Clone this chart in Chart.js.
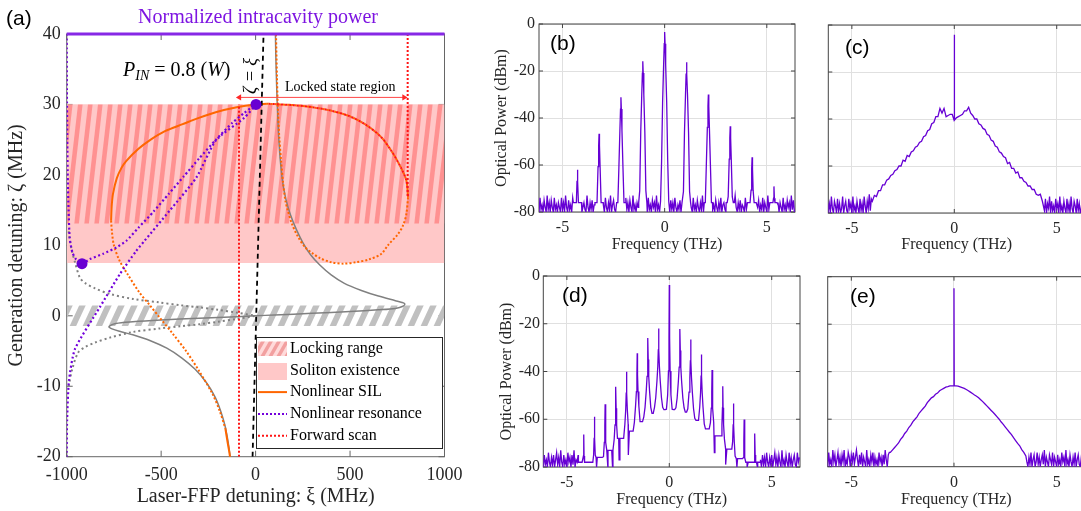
<!DOCTYPE html>
<html>
<head>
<meta charset="utf-8">
<script src="https://cdn.jsdelivr.net/npm/chart.js@4.4.1/dist/chart.umd.min.js"></script>
<style>
  html, body { margin: 0; padding: 0; background: #fff; width: 1081px; height: 511px; overflow: hidden; position: relative; }
  canvas { position: absolute; }
</style>
</head>
<body>
<canvas id="pa" width="470" height="511" style="left:0;top:0"></canvas>
<canvas id="pb" width="320" height="256" style="left:480px;top:0"></canvas>
<canvas id="pc" width="290" height="256" style="left:800px;top:0"></canvas>
<canvas id="pd" width="325" height="255" style="left:480px;top:256px"></canvas>
<canvas id="pe" width="290" height="255" style="left:800px;top:256px"></canvas>
<script>
// ---------- panel (a): detunings in MHz ----------
const xiTicks = [-1000, -500, 0, 500, 1000];
const zetaTicks = [-20, -10, 0, 10, 20, 30, 40];
const solitonBand = [7.5, 30];
const lockingBand = [13.1, 30];
const grayBand = [-1.45, 1.45];

const intracavityTop = [[-1000, 40], [1000, 40]];
const silSolid = [[-765, 13.5], [-762, 15.5], [-755, 17.3], [-735, 19.5], [-710, 21], [-684, 22], [-620, 23.7], [-561, 24.9],
  [-480, 26.2], [-386, 27.2], [-300, 28.1], [-211, 28.9], [-100, 29.6], [0, 30], [60, 30.1]];
const silUpperRight = [[60, 30.1], [200, 29.9], [300, 29.6], [403, 29.1], [500, 28.3], [579, 27.2], [660, 25.5], [719, 23.4],
  [770, 21], [798, 19.2], [807, 16.8]];
const silLowerRight = [[807, 16.8], [798, 14.4], [780, 12.8], [754, 11.6], [700, 10], [666, 8.8], [600, 8], [530, 7.6], [465, 7.4],
  [400, 7.6], [340, 8.2], [300, 8.9], [263, 9.7], [225, 11.2], [193, 13], [170, 15], [158, 16.3], [145, 19], [135, 22], [125, 25.5], [117, 30]];
const silTopStub = [[117, 30], [113, 34], [108, 40]];
const silLowerLeft = [[-765, 13.5], [-760, 11.8], [-750, 10], [-720, 7.8], [-680, 6], [-615, 3.3], [-560, 1.5], [-509, -0.2],
  [-440, -2.5], [-368, -5], [-300, -7.8], [-228, -11.1], [-190, -13.5], [-160, -16]];
const silBottomStub = [[-160, -16], [-148, -18], [-140, -19.2], [-133, -20.5]];

const linearSil = [[105, 40], [107, 37], [111, 33], [116, 29], [122, 25.5], [131, 22], [143, 19], [160, 16.6], [185, 14.3],
  [215, 12.3], [250, 10.4], [290, 8.7], [340, 7.2], [400, 5.8], [470, 4.6], [560, 3.6], [650, 2.8], [740, 2.15], [775, 1.9],
  [790, 1.7], [780, 1.35], [740, 1.05], [650, 0.85], [500, 0.6], [300, 0.35], [100, 0.12], [0, 0], [-100, -0.12],
  [-300, -0.35], [-500, -0.6], [-650, -0.85], [-740, -1.1], [-776, -1.56], [-760, -1.85], [-720, -2.2], [-650, -2.7],
  [-560, -3.5], [-470, -4.6], [-390, -6], [-320, -7.6], [-260, -9.5], [-215, -11.5], [-185, -13.5], [-163, -15.5],
  [-148, -17.5], [-137, -19.5], [-133, -20.5]];
const linearUpper = [[-990, 12], [-975, 9.5], [-955, 7.5], [-930, 5.4], [-900, 4.6], [-850, 3.9], [-772, 3.1], [-650, 2.4],
  [-509, 1.9], [-400, 1.5], [-298, 1.2], [-200, 0.85], [-100, 0.45], [0, 0]];
const linearLower = [[-990, -10], [-970, -7.5], [-939, -5.2], [-900, -4.4], [-850, -3.8], [-772, -3.1], [-650, -2.3],
  [-509, -1.8], [-400, -1.5], [-298, -1.2], [-200, -0.85], [-100, -0.45], [0, 0]];

const resonance = [[-1000, 40], [-999, 32], [-997, 25], [-994, 19], [-990, 15], [-984, 11], [-970, 9], [-950, 8], [-919, 7.4],
  [-877, 8.05], [-807, 8.8], [-737, 9.7], [-684, 10.65], [-620, 12.5], [-540, 14.8], [-460, 17.3], [-380, 19.8],
  [-300, 22.3], [-210, 25], [-123, 27.4], [-60, 28.8], [2, 30], [-60, 28.1], [-210, 24.9], [-314, 19.6], [-456, 14.9],
  [-588, 10.65], [-632, 9.2], [-719, 5.9], [-825, 1.2], [-956, -4.7], [-988, -9.2], [-998, -14.9], [-1000, -19.2], [-1001, -21]];
const dotsXi = [-919, 2];
const dotsZeta = [7.4, 30];

const scanLeft = [[-88, -20], [-88, 30]];
const scanRight = [[805, 17], [805, 41]];
const zetaEqXi = [[-16, -20], [42, 40]];
const arrowXi = [-86, 786];
const arrowZeta = 31;

const legendLabels = ['Locking range', 'Soliton existence', 'Nonlinear SIL', 'Nonlinear resonance', 'Forward scan'];

// ---------- spectra (b)-(e): frequency in THz, power in dBm ----------
const freqTicks = [-5, 0, 5];
const powerTicks = [-80, -60, -40, -20, 0];
const freqRange = [-6.15, 6.38];

// (b) noise floor, 0.05 THz steps from -6.2 THz
const floorB = [
  -76, -80, -74, -79, -77, -80, -75, -78, -80, -73, -79, -76,
  -80, -75, -78, -80, -74, -79, -77, -80, -76, -78, -80, -74,
  -79, -76, -80, -73, -78, -80, -75, -79, -77, -80, -74, -78,
  -80, -76, -79, -75, -80, -77, -74, -80, -78, -76, -79, -80,
  -73, -78, -80, -76, -79, -75, -80, -77, -79, -74, -80, -76,
  -78, -80, -75, -79, -77, -80, -74, -78, -80, -76, -79, -73,
  -80, -77, -75, -79, -80, -76, -78, -74, -80, -77, -79, -75,
  -80, -78, -74, -79, -76, -80, -75, -78, -80, -73, -79, -77,
  -80, -76, -78, -74, -80, -79, -75, -77, -80, -76, -78, -80,
  -74, -79, -77, -80, -75, -78, -76, -80, -73, -79, -77, -80,
  -75, -78, -80, -76, -79, -74, -80, -77, -78, -80, -75, -79,
  -76, -80, -74, -78, -80, -77, -79, -75, -80, -76, -78, -73,
  -80, -79, -75, -77, -80, -76, -78, -80, -74, -79, -77, -80,
  -75, -78, -80, -76, -79, -73, -80, -77, -79, -75, -80, -76,
  -78, -80, -74, -79, -77, -80, -75, -78, -80, -76, -79, -74,
  -80, -77, -76, -79, -80, -75, -78, -74, -80, -77, -79, -76,
  -80, -73, -78, -80, -76, -79, -75, -80, -77, -78, -80, -74,
  -79, -76, -80, -75, -78, -80, -77, -74, -79, -80, -76, -78,
  -75, -80, -77, -79, -74, -80, -76, -78, -80, -73, -79, -77,
  -80, -76, -78, -75, -80, -79, -74, -77, -80, -76, -78, -80,
  -74, -79, -77, -80, -75, -78, -76, -80, -73, -79, -75, -80];
const peakFreqB = [-4.27, -3.21, -2.14, -1.07, 0, 1.07, 2.14, 3.21, 4.28, 5.35];
const peakTopB = [-62, -46.7, -31.2, -15.9, -3.4, -16.3, -30, -43.5, -56.7, -69.1];

// (c) noise at 0.05 THz steps on the wings, envelope at 0.1 THz steps from -4.0 to 4.4 THz
const noiseLeftC = [-74, -79, -76, -80, -73, -78, -80, -75, -77, -80, -74, -79, -76, -80, -78, -73, -80, -77, -75, -79,
  -80, -74, -78, -76, -80, -73, -79, -77, -80, -75, -78, -80, -74, -79, -76, -80, -73, -77, -80, -75, -78, -72, -79, -74];
const envC = [-75, -72.5, -73, -70.5, -70.5, -68, -68, -66, -65.5, -64, -63.5, -62, -61.5, -60, -60, -57.5, -58, -55.5,
  -56, -54, -53.5, -52, -51.5, -50, -49.5, -47.5, -47, -45, -44.5, -42, -41.5, -39, -39, -35.5, -37.5, -35.5, -39, -38.5,
  -38, -38,
  -40.5, -39.5, -39, -38.5, -38, -36.5, -36.5, -35, -37.5, -38.5, -40, -40, -42, -42.5, -44, -44.5, -46.5, -47, -49, -49.5,
  -51.5, -52, -54, -54.5, -56, -56.5, -59, -58.5, -61, -61, -63, -62.5, -65, -65, -66.5, -67, -68.5, -68.5, -70, -70,
  -72, -72.5, -72, -75, -79];
const noiseRightC = [-74, -80, -76, -78, -73, -80, -75, -79, -77, -80, -74, -78, -76, -80, -73, -79, -77, -80, -75, -78,
  -80, -74, -79, -76, -80, -73, -78, -80, -75, -77, -80, -74, -79, -76, -80, -78, -73, -80, -76];
const pumpTopC = -4.2;

// (e) same layout, envelope from -3.1 to 3.5 THz
const noiseLeftE = [-76, -80, -74, -79, -77, -80, -73, -78, -75, -80, -77, -74, -79, -76, -80, -75, -78, -73, -80, -77,
  -79, -74, -76, -80, -75, -78, -74, -79, -76, -73, -77, -80, -75, -79, -74, -80, -76, -78, -80, -73,
  -79, -77, -80, -75, -78, -74, -80, -76, -79, -77, -80, -74, -78, -76, -80, -75, -79, -73, -77, -80, -75, -74];
const envE = [-74, -73, -72, -71, -70, -68.5, -67.5, -66, -65, -63.5, -62.5, -61, -60, -59, -57.5, -56.5, -55.5, -54.5,
  -53, -52, -51, -50.5, -49.5, -49, -48, -47.5, -47, -46.5, -46.3, -46, -46,
  -46,
  -46, -46.1, -46.4, -46.7, -47, -47.5, -48, -48.6, -49.2, -49.8, -50.3, -51, -51.8, -52.6, -53.5, -54.4, -55.3, -56.2,
  -57.1, -58, -59, -60, -61.2, -62.2, -63.3, -64.4, -65.5, -66.5, -67.8, -69, -70.2, -71.2, -72.8, -74, -75.5];
const noiseRightE = [-78, -80, -76, -79, -74, -80, -77, -75, -80, -78, -74, -79, -76, -80, -77, -75, -79, -73, -80, -76,
  -78, -80, -75, -77, -79, -74, -80, -76, -78, -80, -75, -79, -77, -80, -74, -78, -76, -80, -73, -79,
  -77, -80, -75, -78, -80, -76, -79, -74, -80, -77, -75, -79, -80, -76, -78, -74, -80];
const pumpTopE = -4.9;

// (d) comb: wings at 0.05 THz steps, comb lines, troughs between lines, deep dips
const noiseLeftD = [-76, -80, -75, -79, -77, -80, -74, -78, -80, -76, -79, -75, -80, -77, -74, -79, -76, -80, -73, -78,
  -80, -75, -79, -77, -80, -74, -78, -76, -80, -75, -79, -73, -80, -77, -78, -75];
const noiseRightD = [-77, -80, -75, -79, -76, -80, -74, -78, -80, -76, -79, -75, -80, -77, -74, -79, -76, -80, -75, -78,
  -80, -73, -79, -77, -80, -75, -78, -80, -74, -79, -76, -80, -77, -75, -79, -80, -74, -78, -76];
const peakFreqD = [-4.176, -3.654, -3.132, -2.61, -2.088, -1.566, -1.044, -0.522, 0, 0.522, 1.044, 1.566, 2.088, 2.61, 3.132, 3.654, 4.176];
const peakTopD = [-66.4, -59, -53.7, -46.4, -40.1, -32.4, -26, -22, -3.8, -22.2, -26.6, -32.9, -39.4, -46.2, -53.4, -60.1, -66];
const troughD = [-78, -76, -73, -68, -65, -61, -57.5, -56, -56, -57, -60.5, -64, -67, -72.5, -76.5, -78];
const dipsD = [[-3.55, -80], [-3.0, -80], [-2.77, -80], [-2.45, -77], [-2.0, -75], [2.2, -74], [2.75, -79], [3.3, -80], [3.8, -80], [4.3, -80]];

// line shapes of the comb lines (offset THz, drop dB)
const lineDxB = [-0.2, -0.15, -0.1, -0.05, -0.02, 0, 0.02, 0.05, 0.1, 0.15, 0.2];
const lineDropB = [72, 55, 30, 14, 5, 0, 5, 14, 30, 55, 72];
const lineDxD = [-0.26, -0.2, -0.14, -0.08, -0.04, -0.015, 0, 0.015, 0.04, 0.08, 0.14, 0.2, 0.26];
const lineDropD = [36, 33, 29, 22, 16, 9, 0, 9, 16, 22, 29, 33, 36];
const pumpDropD = [56, 55, 52, 46, 36, 22, 0, 22, 36, 46, 52, 55, 56];
const pumpDx = [-0.012, 0, 0.012];
const pumpDrop = [99, 0, 99];

// ---------- helpers ----------
const pts = a => a.map(p => ({x: p[0], y: p[1]}));
const xGrid = (start, n, step) => Array.from({length: n}, (_, i) => +(start + step * i).toFixed(3));
const sampled = (start, step, ys) => xGrid(start, ys.length, step).map((x, i) => ({x, y: ys[i]}));

function withLines(base, freqs, tops, dx, drop, floor, keep) {
  const out = base.filter(p => freqs.every(f => Math.abs(p.x - f) > keep));
  freqs.forEach((f, j) => dx.forEach((d, k) => out.push({x: f + d, y: Math.max(tops[j] - drop[k], floor)})));
  return out.sort((a, b) => a.x - b.x);
}

function envSeries(noiseL, envStart, env, noiseR, pumpTop) {
  const envPts = sampled(envStart, 0.1, env);
  const base = [].concat(
    sampled(-6.2, 0.05, noiseL),
    envPts,
    sampled(+(envStart + 0.1 * env.length - 0.05).toFixed(3), 0.05, noiseR));
  const pumpBase = envPts.find(p => Math.abs(p.x) < 0.005).y;
  return withLines(base, [0], [pumpTop], pumpDx, pumpDrop, pumpBase, 0.005);
}

function combD() {
  const out = [].concat(sampled(-6.2, 0.05, noiseLeftD), sampled(4.45, 0.05, noiseRightD));
  peakFreqD.forEach((f, j) => {
    const drop = f === 0 ? pumpDropD : lineDropD;
    const left = j > 0 ? troughD[j - 1] : -78;
    const right = j < troughD.length ? troughD[j] : -78;
    lineDxD.forEach((d, k) => out.push({x: f + d, y: Math.max(peakTopD[j] - drop[k], d < 0 ? left : right)}));
    if (j < troughD.length) out.push({x: (f + peakFreqD[j + 1]) / 2, y: troughD[j]});
  });
  dipsD.forEach(p => out.push({x: p[0], y: p[1]}));
  return out.sort((a, b) => a.x - b.x);
}

function stripes(ctx, w, h, sw, bg, fg) {
  const c = document.createElement('canvas');
  c.width = w; c.height = h;
  const g = c.getContext('2d');
  if (bg) { g.fillStyle = bg; g.fillRect(0, 0, w, h); }
  g.fillStyle = fg;
  for (let k = -1; k <= 1; k++) {
    g.beginPath();
    g.moveTo(k * w, h); g.lineTo(k * w + sw, h); g.lineTo(k * w + sw + w, 0); g.lineTo(k * w + w, 0);
    g.closePath(); g.fill();
  }
  return ctx.createPattern(c, 'repeat');
}

Chart.defaults.font.family = "'Liberation Serif', 'Times New Roman', serif";
Chart.defaults.color = '#262626';

const SERIF = "'Liberation Serif', serif";
const PURPLE = 'rgb(115,0,220)';
const ORANGE = 'rgb(255,102,0)';
const RED = 'rgb(255,20,20)';
const GRAY = 'rgb(128,128,128)';

// frame with inward ticks on all four sides, plus a panel label
const frameTicks = {
  id: 'frameTicks',
  beforeDatasetsDraw(chart, args, o) {
    const {ctx, chartArea: a, scales: {x, y}} = chart;
    ctx.save();
    ctx.strokeStyle = o.color;
    ctx.lineWidth = 1;
    ctx.strokeRect(a.left, a.top, a.right - a.left, a.bottom - a.top);
    ctx.beginPath();
    x.ticks.forEach(t => {
      const px = x.getPixelForValue(t.value);
      ctx.moveTo(px, a.bottom); ctx.lineTo(px, a.bottom - o.len);
      ctx.moveTo(px, a.top); ctx.lineTo(px, a.top + o.len);
    });
    y.ticks.forEach(t => {
      const py = y.getPixelForValue(t.value);
      ctx.moveTo(a.left, py); ctx.lineTo(a.left + o.len, py);
      ctx.moveTo(a.right, py); ctx.lineTo(a.right - o.len, py);
    });
    ctx.stroke();
    ctx.restore();
  },
  afterDraw(chart, args, o) {
    if (!o.label) return;
    const ctx = chart.ctx;
    ctx.save();
    ctx.fillStyle = '#000';
    ctx.font = "21px 'Liberation Sans', Arial, sans-serif";
    ctx.textBaseline = 'middle';
    ctx.fillText(o.label, o.lx, o.ly);
    ctx.restore();
  }
};

// ---------- panel (a) ----------
const ctxA = document.getElementById('pa').getContext('2d');
const pinkHatch = stripes(ctxA, 10, 87, 4.6, 'rgb(255,200,200)', 'rgb(255,145,145)');
const grayHatch = stripes(ctxA, 13, 28, 6.5, null, 'rgb(192,192,192)');
const legendHatch = stripes(ctxA, 8, 14, 4, 'rgb(255,218,218)', 'rgb(242,160,160)');

function curve(data, color, width, dash, order, extra) {
  return Object.assign({data: pts(data), showLine: true, borderColor: color, borderWidth: width,
    borderDash: dash || [], pointRadius: 0, fill: false, order: order, tension: 0}, extra || {});
}
function band(range, bg, order) {
  return {data: [{x: xiTicks[0], y: range[1]}, {x: xiTicks[xiTicks.length - 1], y: range[1]}], showLine: true,
    borderColor: 'transparent', borderWidth: 0, pointRadius: 0, backgroundColor: bg, fill: {value: range[0]}, order: order};
}

const annotateA = {
  id: 'annotateA',
  afterDraw(chart) {
    const ctx = chart.ctx;
    ctx.save();
    ctx.textBaseline = 'alphabetic';
    ctx.fillStyle = 'rgb(125,20,225)';
    ctx.font = '20px ' + SERIF;
    ctx.textAlign = 'center';
    ctx.fillText('Normalized intracavity power', 258, 23);
    ctx.textAlign = 'left';
    ctx.fillStyle = '#000';
    ctx.font = "21px 'Liberation Sans', Arial, sans-serif";
    ctx.fillText('(a)', 6, 25);

    let x = 123;
    const seg = (t, font, dy) => { ctx.font = font; ctx.fillText(t, x, 76 + dy); x += ctx.measureText(t).width; };
    seg('P', 'italic 20px ' + SERIF, 0);
    seg('IN', 'italic 14px ' + SERIF, 4);
    seg(' = 0.8 (', '20px ' + SERIF, 0);
    seg('W', 'italic 20px ' + SERIF, 0);
    seg(')', '20px ' + SERIF, 0);

    ctx.save();
    ctx.translate(251, 76);
    ctx.rotate(-Math.PI / 2);
    ctx.textAlign = 'center';
    ctx.textBaseline = 'middle';
    ctx.font = 'italic 18px ' + SERIF;
    ctx.fillText('ζ = ξ', 0, 0);
    ctx.restore();

    ctx.font = '14px ' + SERIF;
    ctx.fillText('Locked state region', 285, 91);

    // legend
    const L = 256.5, T = 337.5, W = 186, H = 111;
    ctx.fillStyle = '#fff';
    ctx.fillRect(L, T, W, H);
    ctx.strokeStyle = '#262626';
    ctx.lineWidth = 1;
    ctx.strokeRect(L, T, W, H);
    const rowY = i => 348.5 + i * 21.8;
    ctx.fillStyle = legendHatch;
    ctx.fillRect(258, 341.5, 29, 14.5);
    ctx.fillStyle = 'rgb(255,200,200)';
    ctx.fillRect(258, 363, 29, 17);
    const swatch = (i, color, dash) => {
      ctx.beginPath();
      ctx.strokeStyle = color; ctx.lineWidth = 2; ctx.setLineDash(dash);
      ctx.moveTo(258, rowY(i)); ctx.lineTo(287, rowY(i)); ctx.stroke();
    };
    swatch(2, ORANGE, []);
    swatch(3, PURPLE, [2, 2]);
    swatch(4, RED, [2, 2]);
    ctx.setLineDash([]);
    ctx.fillStyle = '#000';
    ctx.font = '16px ' + SERIF;
    ctx.textBaseline = 'middle';
    legendLabels.forEach((t, i) => ctx.fillText(t, 290, rowY(i)));
    ctx.restore();
  }
};

new Chart(ctxA, {
  type: 'scatter',
  data: {
    datasets: [
      band(solitonBand, 'rgb(255,200,200)', 20),
      band(lockingBand, pinkHatch, 19),
      band(grayBand, grayHatch, 18),
      curve(linearSil, GRAY, 1.5, [], 12, {tension: 0.3}),
      curve(linearUpper, GRAY, 2, [2, 3], 11, {tension: 0.3}),
      curve(linearLower, GRAY, 2, [2, 3], 11, {tension: 0.3}),
      curve(silLowerLeft, ORANGE, 2, [2, 2], 9, {tension: 0.3}),
      curve(silLowerRight, ORANGE, 2, [2, 2], 9, {tension: 0.3}),
      curve(silBottomStub, ORANGE, 2, [], 9, {tension: 0.3}),
      curve(silTopStub, ORANGE, 2, [2, 2], 9, {tension: 0.3}),
      curve(silSolid, ORANGE, 2, [], 8, {tension: 0.3}),
      curve(silUpperRight, ORANGE, 2, [2, 2], 8, {tension: 0.3}),
      curve(silUpperRight, RED, 2, [2, 2], 7, {tension: 0.3, borderDashOffset: 2}),
      curve(scanLeft, RED, 2, [2, 2], 7),
      curve(scanRight, RED, 2, [2, 2], 7),
      curve(zetaEqXi, '#000', 1.8, [5, 4], 6),
      curve(resonance, PURPLE, 2.2, [2, 2.5], 5, {tension: 0.2}),
      {data: arrowXi.map(v => ({x: v, y: arrowZeta})), showLine: true, borderColor: 'rgb(255,70,70)', borderWidth: 1,
        pointStyle: 'triangle', pointRotation: [-90, 90], pointRadius: 3.5, pointBackgroundColor: 'rgb(255,40,40)',
        pointBorderWidth: 0, order: 4},
      {data: dotsXi.map((v, i) => ({x: v, y: dotsZeta[i]})), showLine: false, pointRadius: 5.5,
        pointBackgroundColor: 'rgb(105,0,210)', pointBorderWidth: 0, order: 2},
      curve(intracavityTop, 'rgb(135,40,230)', 3, [], 1, {clip: 4})
    ]
  },
  options: {
    responsive: false, animation: false, events: [],
    layout: {padding: {left: 0, top: 34, right: 20, bottom: 0}},
    plugins: {legend: {display: false}, tooltip: {enabled: false}, frameTicks: {color: '#666', len: 6}},
    scales: {
      x: {
        type: 'linear', min: xiTicks[0], max: xiTicks[xiTicks.length - 1],
        afterBuildTicks: s => { s.ticks = xiTicks.map(v => ({value: v})); },
        afterFit: s => { s.height = 54.3; },
        grid: {display: false, drawTicks: false}, border: {display: false},
        ticks: {padding: 7.5, font: {size: 18}, autoSkip: false, maxRotation: 0, callback: v => String(v)},
        title: {display: true, text: 'Laser-FFP detuning: ξ (MHz)', font: {size: 20}, color: '#262626', padding: {top: 0, bottom: 2.3}}
      },
      y: {
        type: 'linear', min: zetaTicks[0], max: zetaTicks[zetaTicks.length - 1],
        afterBuildTicks: s => { s.ticks = zetaTicks.map(v => ({value: v})); },
        afterFit: s => { s.width = 66.7; },
        grid: {display: false, drawTicks: false}, border: {display: false},
        ticks: {padding: 6, font: {size: 18}, autoSkip: false, callback: v => String(v)},
        title: {display: true, text: 'Generation detuning: ζ (MHz)', font: {size: 20}, color: '#262626', padding: {top: 5, bottom: 0}}
      }
    }
  },
  plugins: [frameTicks, annotateA]
});

// ---------- spectra ----------
function spectrum(id, series, o) {
  new Chart(document.getElementById(id), {
    type: 'scatter',
    data: {datasets: [{data: series, showLine: true, borderColor: 'rgb(102,0,212)', borderWidth: 1.3, pointRadius: 0, tension: 0}]},
    options: {
      responsive: false, animation: false, events: [],
      layout: {padding: o.pad},
      plugins: {legend: {display: false}, tooltip: {enabled: false},
        frameTicks: {color: '#444', len: 4, label: o.label, lx: o.lx, ly: o.ly}},
      scales: {
        x: {
          type: 'linear', min: freqRange[0], max: freqRange[1],
          afterBuildTicks: s => { s.ticks = freqTicks.map(v => ({value: v})); },
          afterFit: s => { s.height = o.xh; },
          grid: {color: 'rgb(224,224,224)', drawTicks: false}, border: {display: false},
          ticks: {padding: 6, font: {size: 16}, autoSkip: false, maxRotation: 0, callback: v => String(v)},
          title: {display: true, text: 'Frequency (THz)', font: {size: 16}, color: '#262626', padding: {top: 0, bottom: 1.4}}
        },
        y: {
          type: 'linear', min: powerTicks[0], max: powerTicks[powerTicks.length - 1],
          afterBuildTicks: s => { s.ticks = powerTicks.map(v => ({value: v})); },
          afterFit: s => { s.width = o.yw; },
          grid: {color: 'rgb(224,224,224)', drawTicks: false}, border: {display: false},
          ticks: {display: o.showY, padding: o.ypad, font: {size: 16}, autoSkip: false, callback: v => String(v)},
          title: {display: o.showY, text: 'Optical Power (dBm)', font: {size: 16}, color: '#262626', padding: {top: o.tpad, bottom: 0}}
        }
      }
    },
    plugins: [frameTicks]
  });
}

spectrum('pb', withLines(sampled(-6.2, 0.05, floorB), peakFreqB, peakTopB, lineDxB, lineDropB, -76, 0.2),
  {pad: {left: 4, top: 24, right: 5, bottom: 0}, xh: 44, yw: 55, showY: true, ypad: 4, tpad: 8.4, label: '(b)', lx: 70, ly: 44});
spectrum('pc', envSeries(noiseLeftC, -4.0, envC, noiseRightC, pumpTopC),
  {pad: {left: 0, top: 25, right: 5, bottom: 0}, xh: 43, yw: 28.3, showY: false, ypad: 4, tpad: 0, label: '(c)', lx: 45, ly: 48});
spectrum('pd', combD(),
  {pad: {left: 4, top: 20, right: 5, bottom: 0}, xh: 44, yw: 59.3, showY: true, ypad: 3.3, tpad: 13.4, label: '(d)', lx: 82, ly: 40});
spectrum('pe', envSeries(noiseLeftE, -3.1, envE, noiseRightE, pumpTopE),
  {pad: {left: 0, top: 20.7, right: 5, bottom: 0}, xh: 44.3, yw: 27.7, showY: false, ypad: 4, tpad: 0, label: '(e)', lx: 50, ly: 41});
</script>
</body>
</html>
